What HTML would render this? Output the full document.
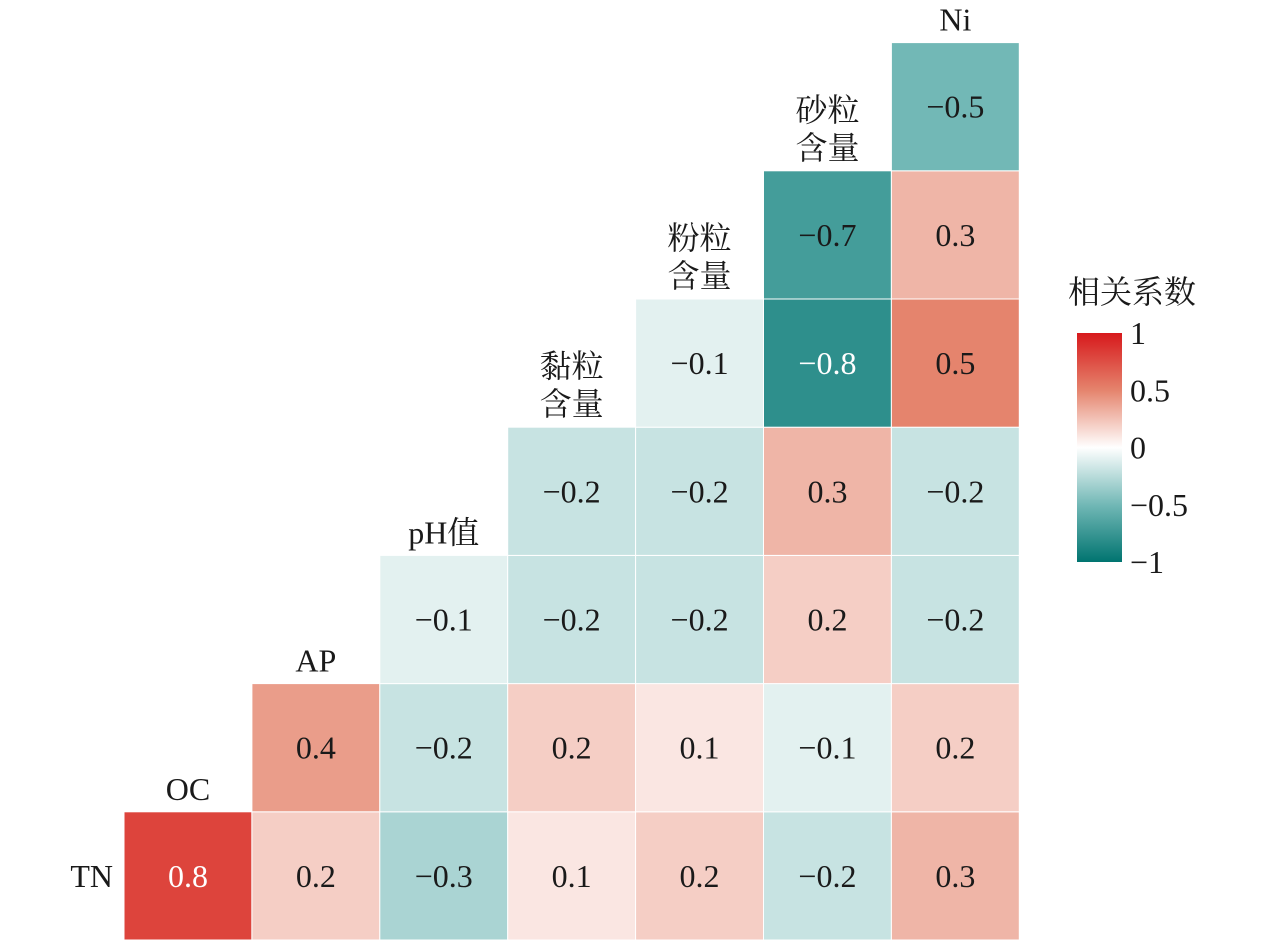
<!DOCTYPE html>
<html><head><meta charset="utf-8">
<style>
html,body{margin:0;padding:0;background:#fff;}
svg text{font-family:"Liberation Serif","Noto Serif CJK SC",serif;fill:#1a1a1a;}
</style></head>
<body>
<svg width="1276" height="945" viewBox="0 0 1276 945" xmlns="http://www.w3.org/2000/svg">
<defs>
<linearGradient id="cbar" x1="0" y1="0" x2="0" y2="1">
<stop offset="0" stop-color="#d7191c"/>
<stop offset="0.25" stop-color="#e5846d"/>
<stop offset="0.5" stop-color="#ffffff"/>
<stop offset="0.75" stop-color="#72b8b6"/>
<stop offset="1" stop-color="#007470"/>
</linearGradient>
</defs>
<g id="cells"></g>
<g id="labels"></g>
<g>
<text x="1132" y="303" font-size="32" text-anchor="middle">相关系数</text>
<rect x="1077" y="333" width="45" height="229" fill="url(#cbar)"/>
<g id="cticks"></g>
</g>
</svg>
<script>
const rowNames=["TN","OC","AP","pH值","黏粒含量","粉粒含量","砂粒含量","Ni"];
const row0=[0.8,0.2,-0.3,0.1,0.2,-0.2,0.3];
const row1=[0.4,-0.2,0.2,0.1,-0.1,0.2];
const row2=[-0.1,-0.2,-0.2,0.2,-0.2];
const row3=[-0.2,-0.2,0.3,-0.2];
const row4=[-0.1,-0.8,0.5];
const row5=[-0.7,0.3];
const row6=[-0.5];
const colorTicks=[1,0.5,0,-0.5,-1];
const rows=[row0,row1,row2,row3,row4,row5,row6];
const x0=124,cw=127.9,yBottom=940,ch=128.2;
const xs=c=>x0+c*cw;
const ys=r=>yBottom-(r+1)*ch;
const stops=[[-1,[0,116,112]],[-0.5,[114,184,182]],[0,[255,255,255]],[0.5,[229,132,109]],[1,[215,25,28]]];
function colr(v){for(let i=0;i<stops.length-1;i++){const a=stops[i],b=stops[i+1];if(v<=b[0]){const t=(v-a[0])/(b[0]-a[0]);const cc=a[1].map((x,k)=>Math.round(x+(b[1][k]-x)*t));return 'rgb('+cc.join(',')+')';}}return 'rgb(215,25,28)';}
const NS="http://www.w3.org/2000/svg";
const gc=document.getElementById('cells'),gl=document.getElementById('labels');
const fmt=v=>(v<0?'\u2212':'')+Math.abs(v).toFixed(1);
rows.forEach((vals,r)=>{vals.forEach((v,i)=>{const c=r+i;
const rect=document.createElementNS(NS,'rect');
rect.setAttribute('x',xs(c));rect.setAttribute('y',ys(r));rect.setAttribute('width',cw);rect.setAttribute('height',ch);
rect.setAttribute('fill',colr(v));rect.setAttribute('stroke','#fff');rect.setAttribute('stroke-width','1');


gc.appendChild(rect);
const t=document.createElementNS(NS,'text');
t.setAttribute('x',xs(c)+cw/2);t.setAttribute('y',ys(r)+ch/2+11);t.setAttribute('text-anchor','middle');t.setAttribute('font-size','32');
if(Math.abs(v)>=0.75)t.setAttribute('style','fill:#fff');
t.textContent=fmt(v);


gc.appendChild(t);});});
const tn=document.createElementNS(NS,'text');
tn.setAttribute('x',113);tn.setAttribute('y',ys(0)+ch/2+11);tn.setAttribute('text-anchor','end');tn.setAttribute('font-size','32');tn.textContent='TN';


gl.appendChild(tn);
const colLabels=[["OC"],["AP"],["pH值"],["黏粒","含量"],["粉粒","含量"],["砂粒","含量"],["Ni"]];
colLabels.forEach((lines,c)=>{const top=ys(c);
lines.forEach((s,k)=>{const t=document.createElementNS(NS,'text');
t.setAttribute('x',xs(c)+cw/2);t.setAttribute('y',top-12-(lines.length-1-k)*38);t.setAttribute('text-anchor','middle');t.setAttribute('font-size','32');t.textContent=s;


gl.appendChild(t);});});
const gt=document.getElementById('cticks');
colorTicks.forEach(v=>{const y=333+(1-v)/2*229;
const t=document.createElementNS(NS,'text');
t.setAttribute('x',1130);t.setAttribute('y',y+11);t.setAttribute('font-size','32');t.textContent=(v<0?'\u2212':'')+Math.abs(v);


gt.appendChild(t);});
</script>
</body></html>
